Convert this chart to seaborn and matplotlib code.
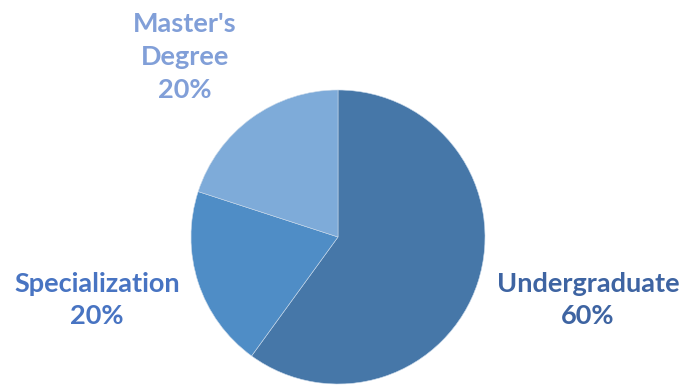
import matplotlib
matplotlib.use("Agg")
import matplotlib.pyplot as plt
import seaborn as sns

categories = ["Undergraduate", "Specialization", "Master's\nDegree"]
values = [60, 20, 20]
pct_labels = ["60%", "20%", "20%"]

wedge_colors = ["#4677a8", "#4f8dc6", "#7eabd9"]
label_colors = ["#3e64a2", "#4874c2", "#819fd8"]

sns.set_theme(style="white")
plt.rcParams["font.family"] = ["Lato", "DejaVu Sans"]

W, H = 686, 386
fig = plt.figure(figsize=(W / 100, H / 100), dpi=100)
ax = fig.add_axes([0, 0, 1, 1])

cx, cy, r = 338, H - 237, 147
ax.pie(values, colors=wedge_colors, startangle=90, counterclock=False,
       center=(cx, cy), radius=r, frame=True,
       wedgeprops=dict(edgecolor="#c9d9ea", linewidth=0.4))
ax.set_xlim(0, W)
ax.set_ylim(0, H)
ax.set_aspect("equal")
ax.axis("off")

label_pos = [(588, H - 300), (97, H - 300), (185, H - 57)]
for name, pct, col, (x, y) in zip(categories, pct_labels, label_colors, label_pos):
    ax.text(x, y, f"{name}\n{pct}", ha="center", va="center", color=col,
            fontsize=19.5, fontweight="bold", linespacing=1.45)

fig.savefig("out.png", dpi=100, facecolor="white")
